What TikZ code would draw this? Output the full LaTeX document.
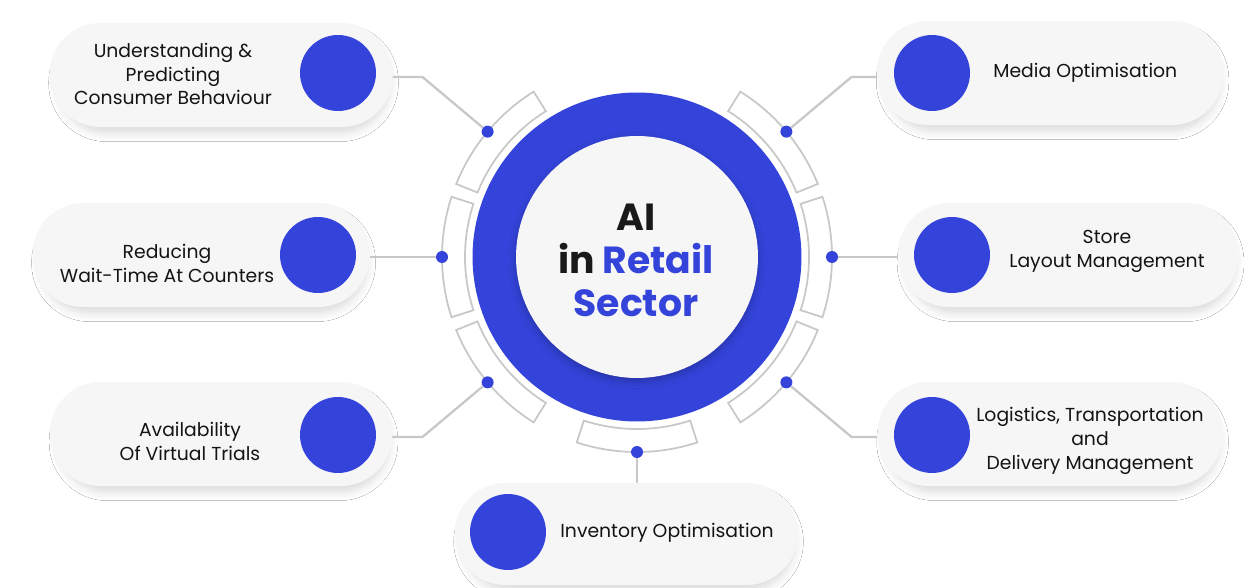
\documentclass[tikz,border=0pt]{standalone}
\usepackage{fontspec}
\setmainfont{Poppins}
\usetikzlibrary{calc,shadows.blur}
\definecolor{retailblue}{RGB}{52,68,219}
\definecolor{wiregray}{RGB}{200,200,200}
\definecolor{pillgray}{RGB}{246,246,246}
\definecolor{inkgray}{RGB}{20,20,20}
\tikzstyle{pill}=[rectangle, rounded corners=1.02cm, fill=pillgray, minimum height=2.08cm, inner sep=0pt, blur shadow={shadow xshift=1.5pt, shadow yshift=-4.5pt, shadow scale=0.97, shadow blur radius=5pt, shadow opacity=14}]
\tikzstyle{disc}=[circle, fill=retailblue, minimum size=1.52cm, inner sep=0pt]
\tikzstyle{knob}=[circle, fill=retailblue, minimum size=0.24cm, inner sep=0pt]
\tikzstyle{wire}=[draw=wiregray, line width=1.3pt]
\tikzstyle{rim}=[draw=wiregray, line width=1pt]
\tikzstyle{annot}=[align=center, text=inkgray, inner sep=0pt, font=\fontsize{10.7}{13.6}\selectfont]
\newcommand{\drawspoke}[2]
{
  \draw[rim] (#1-18:172) arc[start angle=#1-18, end angle=#1+18, radius=172] -- (#1+18:195) arc[start angle=#1+18, end angle=#1-18, radius=195] -- cycle;
  \node[knob] (#2) at (#1:195) {};
}
\begin{document}
\begin{tikzpicture}[x=0.02cm, y=-0.02cm]
	\useasboundingbox[fill=white] (0,0) rectangle (1248,588);

	% hub
	\node[circle, fill=retailblue, minimum size=6.58cm, inner sep=0pt] (hub) at (637,257) {};
	\node[circle, fill=pillgray, minimum size=4.84cm, inner sep=0pt, blur shadow={shadow xshift=0pt, shadow yshift=-2pt, shadow blur radius=4pt, shadow opacity=25}] (core) at (hub) {};
	\node[align=center, inner sep=0pt, font=\fontsize{21.5}{24.5}\selectfont\bfseries, text=black!90] (title) at (636,260) {AI\\in \textcolor{retailblue}{Retail}\\\textcolor{retailblue}{Sector}};

	\begin{scope}[shift={(637,257)}, x=0.02cm, y=0.02cm]
		\drawspoke{140}{k1}
		\drawspoke{40}{k2}
		\drawspoke{180}{k3}
		\drawspoke{0}{k4}
		\drawspoke{220}{k5}
		\drawspoke{320}{k6}
		\drawspoke{270}{k7}
		\coordinate (b1) at (140:280);
		\coordinate (b2) at (40:280);
		\coordinate (b5) at (220:280);
		\coordinate (b6) at (320:280);
	\end{scope}

	% pills
	\node[pill, minimum width=6.86cm] (p1) at (221,75) {};
	\node[pill, minimum width=6.92cm] (p2) at (1050,73) {};
	\node[pill, minimum width=6.74cm] (p3) at (201,255) {};
	\node[pill, minimum width=6.80cm] (p4) at (1068,255) {};
	\node[pill, minimum width=6.84cm] (p5) at (221,434) {};
	\node[pill, minimum width=6.90cm] (p6) at (1050,434) {};
	\node[pill, minimum width=6.86cm, minimum height=2.04cm] (p7) at (626,534) {};

	\draw[wire] (k1) -- (b1) -- (b1 -| p1.east);
	\draw[wire] (k2) -- (b2) -- (b2 -| p2.west);
	\draw[wire] (k3) -- (k3 -| p3.east);
	\draw[wire] (k4) -- (k4 -| p4.west);
	\draw[wire] (k5) -- (b5) -- (b5 -| p5.east);
	\draw[wire] (k6) -- (b6) -- (b6 -| p6.west);
	\draw[wire] (k7) -- (k7 |- p7.north);

	\node[disc] (c1) at (338,73) {};
	\node[disc] (c2) at (932,73) {};
	\node[disc] (c3) at (318,255) {};
	\node[disc] (c4) at (952,255) {};
	\node[disc] (c5) at (338,435) {};
	\node[disc] (c6) at (932,435) {};
	\node[disc] (c7) at (508,532) {};

	\node[annot] (t1) at (173,74) {Understanding \&\\Predicting\\Consumer Behaviour};
	\node[annot, anchor=west] (t2) at (993,73) {Media Optimisation};
	\node[annot] (t3) at (167,263) {Reducing\\Wait-Time At Counters};
	\node[annot] (t4) at (1107,251) {Store\\Layout Management};
	\node[annot] (t5) at (190,441) {Availability\\Of Virtual Trials};
	\node[annot] (t6) at (1090,441) {Logistics, Transportation\\and\\Delivery Management};
	\node[annot, anchor=west] (t7) at (560,533) {Inventory Optimisation};

\end{tikzpicture}
\end{document}
